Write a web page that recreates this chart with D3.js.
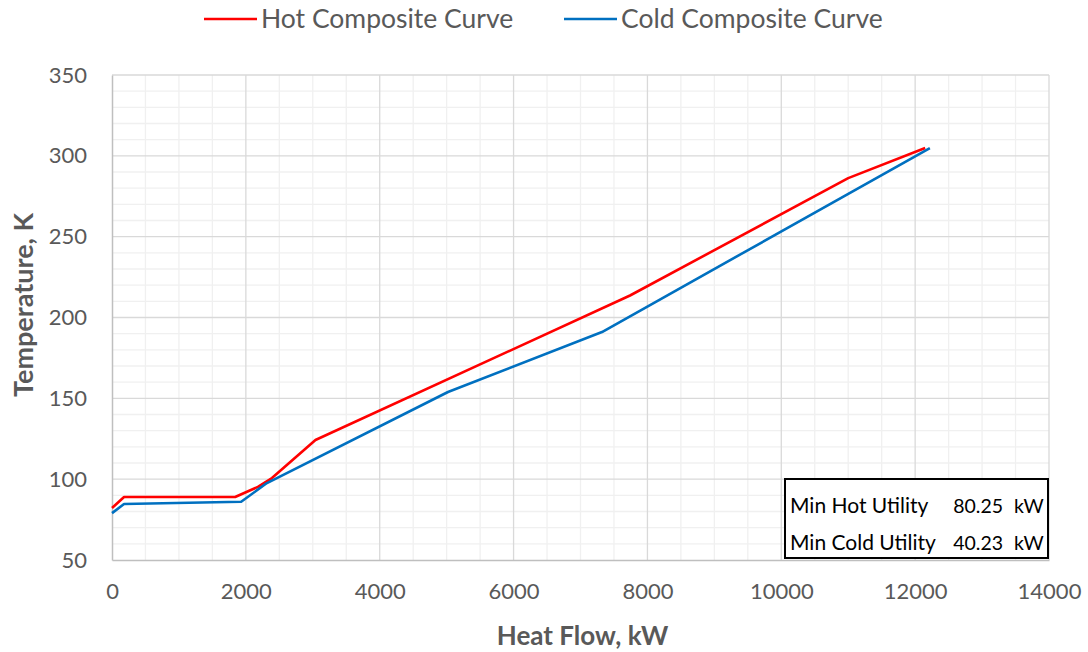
<!DOCTYPE html>
<html>
<head>
<meta charset="utf-8">
<script src="https://cdn.jsdelivr.net/npm/d3@7"></script>
<style>
  body { margin: 0; background: #fff; }
  svg { display: block; font-family: Lato, "Open Sans", sans-serif; }
</style>
</head>
<body>
<svg id="chart" width="1088" height="652"></svg>
<script>
// Composite curves: heat flow (kW) and temperature (K)
const hotQ = [0, 180, 1840, 2180, 2390, 3040, 7740, 11000, 12150];
const hotT = [82.2, 89, 89, 95.2, 100.7, 124.2, 213.6, 286.2, 304.8];
const coldQ = [0, 180, 1930, 2315, 5020, 7321, 12220];
const coldT = [79, 84.6, 86, 97.6, 153.9, 191, 304.8];

const xTicks = [0, 2000, 4000, 6000, 8000, 10000, 12000, 14000];
const yTicks = [50, 100, 150, 200, 250, 300, 350];

const utilityLabels = ["Min Hot Utility", "Min Cold Utility"];
const utilityValues = [80.25, 40.23];

const svg = d3.select("#chart");
const plotL = 112, plotR = 1049, plotT = 75, plotB = 560;

const x = d3.scaleLinear().domain([0, 14000]).range([plotL, plotR]);
const y = d3.scaleLinear().domain([50, 350]).range([plotB, plotT]);

// minor grid
const g = svg.append("g");
g.selectAll("line.mx").data(d3.range(0, 14001, 500).filter(v => v % 2000 !== 0))
  .join("line").attr("x1", d => x(d)).attr("x2", d => x(d))
  .attr("y1", plotT).attr("y2", plotB).attr("stroke", "#f0f0f0").attr("stroke-width", 1.3);
g.selectAll("line.my").data(d3.range(50, 351, 10).filter(v => v % 50 !== 0))
  .join("line").attr("y1", d => y(d)).attr("y2", d => y(d))
  .attr("x1", plotL).attr("x2", plotR).attr("stroke", "#f0f0f0").attr("stroke-width", 1.3);

// major grid
svg.append("g").selectAll("line").data(xTicks.slice(1))
  .join("line").attr("x1", d => x(d)).attr("x2", d => x(d))
  .attr("y1", plotT).attr("y2", plotB).attr("stroke", "#d9d9d9").attr("stroke-width", 1.3);
svg.append("g").selectAll("line").data(yTicks.slice(1))
  .join("line").attr("y1", d => y(d)).attr("y2", d => y(d))
  .attr("x1", plotL).attr("x2", plotR).attr("stroke", "#d9d9d9").attr("stroke-width", 1.3);

// axes
const xAxis = svg.append("g").attr("transform", `translate(0,${plotB})`)
  .call(d3.axisBottom(x).tickValues(xTicks).tickSize(0).tickPadding(26).tickFormat(d3.format("d")));
const yAxis = svg.append("g").attr("transform", `translate(${plotL},0)`)
  .call(d3.axisLeft(y).tickValues(yTicks).tickSize(0).tickPadding(25));
[xAxis, yAxis].forEach(a => {
  a.select(".domain").attr("stroke", "#bfbfbf").attr("stroke-width", 1.5);
  a.selectAll("text").attr("fill", "#595959").style("font-size", "22px").style("font-family", "Lato, sans-serif");
});
xAxis.selectAll("text").attr("dy", "0.71em").attr("transform", "translate(0,-3)");

// axis titles
svg.append("text").attr("x", (plotL + plotR) / 2 + 2).attr("y", 645)
  .attr("text-anchor", "middle").attr("fill", "#595959")
  .style("font-size", "26px").style("font-weight", "bold").text("Heat Flow, kW");
svg.append("text").attr("transform", `translate(33,305) rotate(-90)`)
  .attr("text-anchor", "middle").attr("fill", "#595959")
  .style("font-size", "27px").style("font-weight", "bold").text("Temperature, K");

// curves
const line = d3.line().x(d => x(d[0])).y(d => y(d[1]));
svg.append("path").datum(hotQ.map((q, i) => [q, hotT[i]]))
  .attr("d", line).attr("fill", "none").attr("stroke", "#ff0000").attr("stroke-width", 2.6)
  .attr("stroke-linejoin", "round");
svg.append("path").datum(coldQ.map((q, i) => [q, coldT[i]]))
  .attr("d", line).attr("fill", "none").attr("stroke", "#0070c0").attr("stroke-width", 2.6)
  .attr("stroke-linejoin", "round");

// legend
const legend = [
  { name: "Hot Composite Curve", color: "#ff0000", x0: 204 },
  { name: "Cold Composite Curve", color: "#0070c0", x0: 564 }
];
const lg = svg.append("g").selectAll("g").data(legend).join("g");
lg.append("line").attr("x1", d => d.x0).attr("x2", d => d.x0 + 53)
  .attr("y1", 19).attr("y2", 19).attr("stroke", d => d.color).attr("stroke-width", 2.6);
lg.append("text").attr("x", d => d.x0 + 57).attr("y", 28)
  .attr("fill", "#595959").style("font-size", "26.5px").text(d => d.name);

// utility box
const box = svg.append("g");
box.append("rect").attr("x", 785).attr("y", 479).attr("width", 263).attr("height", 79)
  .attr("fill", "#fff").attr("stroke", "#000").attr("stroke-width", 2);
utilityLabels.forEach((lab, i) => {
  const yy = 513 + i * 37;
  box.append("text").attr("x", 790).attr("y", yy).attr("fill", "#000")
    .style("font-size", "21px").text(lab);
  box.append("text").attr("x", 1003).attr("y", yy).attr("text-anchor", "end").attr("fill", "#000")
    .style("font-size", "19.5px").text(utilityValues[i].toFixed(2));
  box.append("text").attr("x", 1014).attr("y", yy).attr("fill", "#000")
    .style("font-size", "19.5px").text("kW");
});
</script>
</body>
</html>
